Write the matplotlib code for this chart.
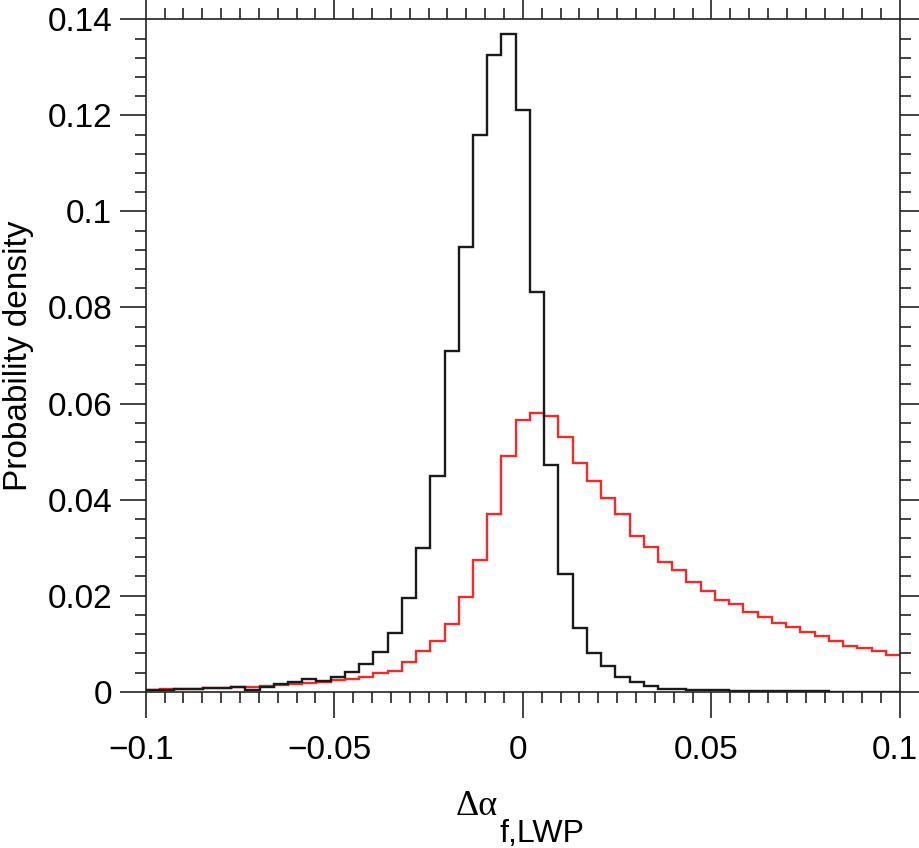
import numpy as np
import matplotlib
matplotlib.use("Agg")
import matplotlib.pyplot as plt
from matplotlib.transforms import ScaledTranslation

# histogram bins (53 equal bins over [-0.1, 0.1])
bin_edges = np.linspace(-0.1, 0.1, 54)

# probability density, one value per bin
black_pdf = [
    0.0004, 0.0004, 0.0005, 0.0006, 0.0008, 0.0008, 0.0009, 0.0004, 0.0010, 0.0016,
    0.0021, 0.0026, 0.0022, 0.0031, 0.0042, 0.0058, 0.0083, 0.0122, 0.0196, 0.0300,
    0.0450, 0.0709, 0.0927, 0.1159, 0.1325, 0.1369, 0.1211, 0.0833, 0.0473, 0.0245,
    0.0132, 0.0080, 0.0053, 0.0030, 0.0021, 0.0012, 0.0006, 0.0005, 0.0004, 0.0003,
    0.0003, 0.0002, 0.0002, 0.0001, 0.0001, 0.0001, 0.0001, 0.0001, 0.0000, 0.0000,
    0.0000, 0.0000, 0.0000,
]
red_pdf = [
    0.0004, 0.0005, 0.0005, 0.0006, 0.0007, 0.0008, 0.0009, 0.0010, 0.0012, 0.0015,
    0.0017, 0.0019, 0.0020, 0.0024, 0.0027, 0.0031, 0.0039, 0.0044, 0.0061, 0.0085,
    0.0105, 0.0140, 0.0197, 0.0274, 0.0370, 0.0490, 0.0565, 0.0581, 0.0574, 0.0530,
    0.0476, 0.0439, 0.0403, 0.0369, 0.0324, 0.0302, 0.0270, 0.0253, 0.0228, 0.0210,
    0.0190, 0.0182, 0.0167, 0.0155, 0.0144, 0.0134, 0.0124, 0.0115, 0.0106, 0.0095,
    0.0091, 0.0085, 0.0076,
]

x_ticks = [-0.1, -0.05, 0, 0.05, 0.1]
x_tick_labels = ["\u22120.1", "\u22120.05", "0", "0.05", "0.1"]
y_ticks = [0, 0.02, 0.04, 0.06, 0.08, 0.1, 0.12, 0.14]
y_tick_labels = ["0", "0.02", "0.04", "0.06", "0.08", "0.1", "0.12", "0.14"]

plt.rcParams["font.family"] = ["Liberation Sans", "DejaVu Sans"]

fig = plt.figure(figsize=(9.19, 8.48), dpi=100)
ax = fig.add_axes([0.1585, 0.1843, 0.8208, 0.7929])

ax.stairs(red_pdf, bin_edges, baseline=None, color="#ee2c2c", linewidth=1.7)
ax.stairs(black_pdf, bin_edges, baseline=None, color="#1a1a1a", linewidth=1.7)

ax.set_xlim(-0.1, 0.1)
ax.set_ylim(0, 0.14)

ax.set_xticks(x_ticks)
ax.set_xticklabels(x_tick_labels)
ax.set_yticks(y_ticks)
ax.set_yticklabels(y_tick_labels)
ax.set_xticks(np.arange(-0.1, 0.1001, 0.005), minor=True)
ax.set_yticks(np.arange(0, 0.1401, 0.004), minor=True)

ax.tick_params(which="both", direction="out", top=True, right=True,
               width=1.2, color="#222222")
ax.tick_params(which="major", length=19, labelsize=24)
ax.tick_params(axis="x", which="major", pad=12)
ax.tick_params(axis="y", which="major", pad=5)
ax.tick_params(which="minor", length=8)
for s in ax.spines.values():
    s.set_linewidth(1.2)
    s.set_color("#222222")

# x tick labels sit a little left of their ticks in the original
shift = ScaledTranslation(-5 / 100, 0, fig.dpi_scale_trans)
for lab in ax.get_xticklabels():
    lab.set_transform(lab.get_transform() + shift)

ax.set_ylabel("Probability density", fontsize=24, labelpad=10)

fig.text(456 / 919, 1 - 815 / 848, "\u0394\u03b1", fontsize=26,
         family=["Liberation Serif", "DejaVu Serif"], ha="left", va="baseline")
fig.text(499 / 919, 1 - 842 / 848, "f,LWP", fontsize=23, ha="left", va="baseline")

fig.savefig("out.png", dpi=100)
